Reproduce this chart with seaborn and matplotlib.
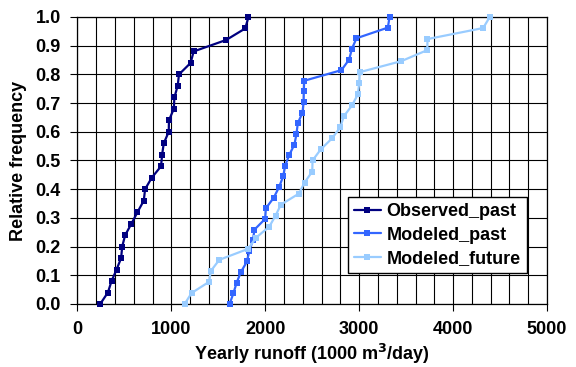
import numpy as np
import pandas as pd
import matplotlib
matplotlib.use("Agg")
import matplotlib.pyplot as plt
import seaborn as sns
from matplotlib.ticker import MultipleLocator

# --- data ---
observed_past = [242, 324, 363, 416, 465, 476, 508, 575, 639, 706, 720, 791, 890,
                 901, 919, 972, 974, 1026, 1032, 1067, 1081, 1205, 1237, 1584, 1786, 1821]
modeled_past = [1620, 1660, 1695, 1740, 1805, 1830, 1868, 1885, 1998, 2006, 2090, 2147,
                2190, 2211, 2254, 2310, 2332, 2346, 2396, 2408, 2410, 2414, 2811, 2893,
                2922, 2971, 3305, 3323]
modeled_future = [1141, 1216, 1400, 1421, 1510, 1819, 1900, 2042, 2109, 2166, 2358, 2418,
                  2500, 2503, 2590, 2710, 2798, 2836, 2924, 2986, 3000, 3005, 3448, 3725,
                  3727, 4320, 4390]
series_names = ["Observed_past", "Modeled_past", "Modeled_future"]
series_values = [observed_past, modeled_past, modeled_future]
colors = ["#000080", "#3366FF", "#99CCFF"]
x_ticks = [0, 1000, 2000, 3000, 4000, 5000]
y_ticks = [round(0.1 * i, 1) for i in range(11)]

rows = []
for name, vals in zip(series_names, series_values):
    n = len(vals)
    for i, v in enumerate(vals):
        rows.append({"runoff": v, "freq": i / (n - 1), "series": name})
df = pd.DataFrame(rows)

sns.set_style("white")
plt.rcParams["font.family"] = ["Liberation Sans", "DejaVu Sans"]
plt.rcParams["font.weight"] = "bold"
plt.rcParams["text.color"] = "black"
plt.rcParams["axes.labelcolor"] = "black"
plt.rcParams["xtick.color"] = "black"
plt.rcParams["ytick.color"] = "black"

fig = plt.figure(figsize=(5.76, 3.67), dpi=100)
ax = fig.add_axes([0.1345, 0.1717, 0.9497 - 0.1345, 0.9537 - 0.1717])

sns.lineplot(data=df, x="runoff", y="freq", hue="series", hue_order=series_names,
             palette=colors, marker="s", markersize=4.5, markeredgewidth=0,
             linewidth=1.6, sort=False, estimator=None, ax=ax, zorder=3)
for ln in ax.lines:
    ln.set_clip_on(False)

ax.set_xlim(0, 5000)
ax.set_ylim(0, 1.0)
ax.set_xticks(x_ticks)
ax.set_xticklabels([str(t) for t in x_ticks])
ax.xaxis.set_minor_locator(MultipleLocator(200))
ax.set_yticks(y_ticks)
ax.set_yticklabels([f"{t:.1f}" for t in y_ticks])

ax.grid(True, which="major", axis="both", color="black", linewidth=0.8)
ax.grid(True, which="minor", axis="x", color="black", linewidth=0.8)
ax.set_axisbelow(True)

for s in ax.spines.values():
    s.set_color("black")
    s.set_linewidth(0.9)

ax.tick_params(axis="both", which="major", direction="out", length=5, width=0.8,
               color="black", labelcolor="black", labelsize=13, bottom=True, left=True)
ax.tick_params(axis="x", which="major", pad=7)
ax.tick_params(axis="y", which="major", pad=7)
ax.tick_params(axis="x", which="minor", length=0)
for lab in ax.get_xticklabels() + ax.get_yticklabels():
    lab.set_fontweight("bold")

ax.set_xlabel("Yearly runoff (1000 m$^\\mathbf{3}$/day)", fontsize=13, fontweight="bold",
              labelpad=3, color="black")
ax.set_ylabel("Relative frequency", fontsize=13, fontweight="bold", labelpad=6, color="black")

leg = ax.legend(loc="upper right", bbox_to_anchor=(0.957, 0.373), frameon=True,
                fancybox=False, edgecolor="black", framealpha=1,
                prop={"size": 13, "weight": "bold"}, handlelength=1.5,
                handletextpad=0.3, labelspacing=0.35, borderpad=0.35, borderaxespad=0)
leg.get_frame().set_linewidth(1.0)
leg.set_zorder(5)
for t in leg.get_texts():
    t.set_color("black")

fig.savefig("out.png", dpi=100)
